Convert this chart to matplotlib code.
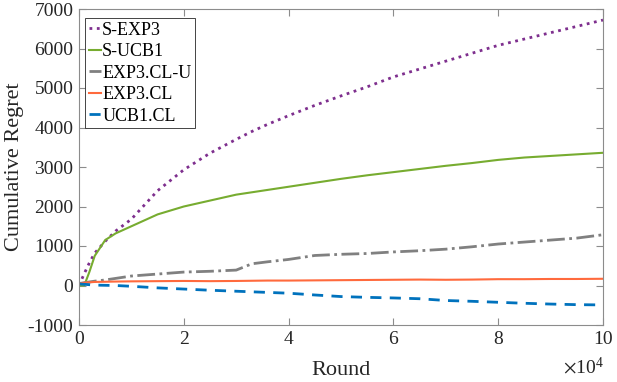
import matplotlib
matplotlib.use('Agg')
import matplotlib.pyplot as plt

plt.rcParams['font.family'] = ['Liberation Serif', 'DejaVu Serif']
plt.rcParams['mathtext.fontset'] = 'stix'
plt.rcParams['axes.unicode_minus'] = False

# rounds in units of 1e4
rounds = [0, 0.1, 0.2, 0.3, 0.5, 0.7, 1, 1.5, 2, 2.5, 3, 3.3, 3.6, 4, 4.5, 5, 5.5, 6, 6.5, 7, 7.5, 8, 8.5, 9, 9.5, 10]

s_exp3 = [0, 300, 580, 820, 1120, 1380, 1680, 2400, 2930, 3350, 3700, 3900, 4080, 4300, 4560, 4800, 5030, 5280, 5480, 5680, 5880, 6080, 6240, 6400, 6560, 6720]
s_ucb1 = [0, 0, 350, 750, 1150, 1320, 1500, 1800, 2000, 2150, 2300, 2360, 2420, 2500, 2600, 2700, 2790, 2870, 2950, 3030, 3100, 3180, 3240, 3280, 3320, 3360]
exp3_clu = [50, 70, 90, 110, 140, 180, 240, 290, 340, 360, 390, 550, 600, 660, 760, 790, 810, 850, 880, 920, 980, 1050, 1100, 1150, 1200, 1285]
exp3_cl = [50, 70, 80, 90, 95, 100, 105, 110, 115, 110, 115, 120, 125, 125, 130, 135, 140, 145, 150, 145, 150, 160, 160, 165, 165, 170]
ucb1_cl = [40, 30, 20, 10, 5, 0, -20, -60, -90, -120, -145, -160, -175, -195, -240, -280, -300, -315, -335, -380, -400, -425, -450, -470, -485, -492]

fig = plt.figure(figsize=(6.17, 3.82), dpi=100)
ax = fig.add_axes([79/617, 1-325/382, (603-79)/617, (325-9)/382])

ax.plot(rounds, s_exp3, ':', color='#7E2F8E', lw=2, label='S-EXP3')
ax.plot(rounds, s_ucb1, '-', color='#77AC30', lw=1.5, label='S-UCB1')
ax.plot(rounds, exp3_clu, '-.', color='#808080', lw=2, label='EXP3.CL-U')
ax.plot(rounds, exp3_cl, '-', color='#FF6A3D', lw=1.5, label='EXP3.CL')
ax.plot(rounds, ucb1_cl, '--', color='#0072BD', lw=2, dashes=(4, 3), label='UCB1.CL')

ax.set_xlim(0, 10)
ax.set_ylim(-1000, 7000)
ax.set_xticks([0, 2, 4, 6, 8, 10])
ax.set_yticks(range(-1000, 7001, 1000))
ax.tick_params(direction='in', top=True, right=True, labelsize=14, colors='#8c8c8c',
               labelcolor='#262626', length=5, pad=4)
for s in ax.spines.values():
    s.set_color('#8c8c8c')
ax.set_xlabel('Round', fontsize=16, color='#262626', labelpad=10)
ax.set_ylabel('Cumulative Regret', fontsize=16, color='#262626', labelpad=3)
ax.text(0.962, -0.098, r'$\times\mathregular{10^4}$', transform=ax.transAxes, ha='center', va='top',
        fontsize=14, color='#262626')

leg = ax.legend(loc='upper left', bbox_to_anchor=(6/524, 1-9/316), borderaxespad=0,
                fontsize=13, handlelength=0.7, handletextpad=0.05,
                borderpad=0.2, labelspacing=0.25, fancybox=False, framealpha=1)
leg.get_frame().set_edgecolor('#262626')
leg.get_frame().set_linewidth(0.6)

fig.savefig('out.png', dpi=100)
